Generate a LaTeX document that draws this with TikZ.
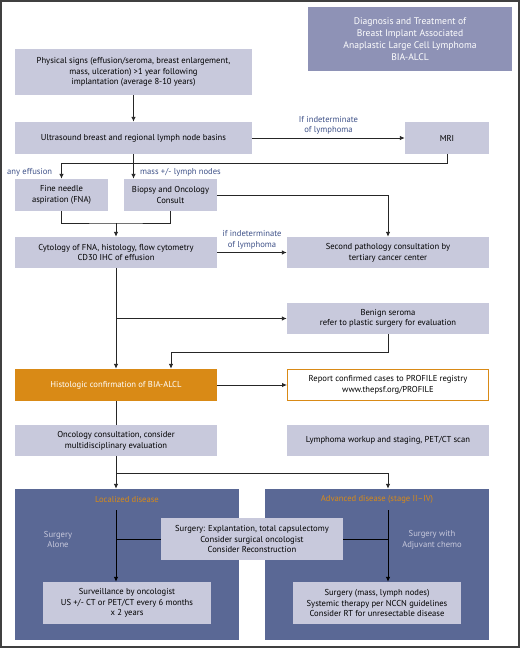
\documentclass[tikz,border=0pt]{standalone}
\usepackage{fontspec}
\setsansfont{PT Sans}
\usepackage{tikz}
\usetikzlibrary{positioning,arrows.meta,calc}
\definecolor{lav1}{HTML}{C8C9DC}
\definecolor{slate1}{HTML}{8E92B6}
\definecolor{navy1}{HTML}{5A6895}
\definecolor{orange1}{HTML}{D98A16}
\definecolor{label1}{HTML}{3E5188}
\definecolor{line1}{HTML}{262626}

\begin{document}
\begin{tikzpicture}[
    x=1pt, y=1pt,
    every node/.style={font=\sffamily\fontsize{8.6}{10.7}\selectfont},
    box/.style={fill=lav1, minimum height=31pt, inner sep=0pt,
                align=center},
    panel/.style={fill=navy1, minimum width=224pt, minimum height=151pt,
                  inner sep=0pt},
    lbl/.style={text=label1, align=center, inner sep=1pt},
    arr/.style={-{Latex[length=5pt,width=4.5pt]}, line1, line width=0.9pt},
    ln/.style={line1, line width=0.9pt},
]
\useasboundingbox (0,0) rectangle (520,-648);
\draw[line width=1.6pt, black!75] (0.8,-0.8) rectangle (519.2,-647.2);

% title
\node[box, fill=slate1, text=white, minimum width=204pt, minimum height=64pt,
      font=\sffamily\fontsize{9.6}{12.2}\selectfont]
    (title) at (410,-39) {Diagnosis and Treatment of\\Breast Implant Associated\\
    Anaplastic Large Cell Lymphoma\\BIA-ALCL};

% diagnosis
\node[box, minimum width=237pt, minimum height=46pt] (phys) at (133.5,-72)
    {Physical signs (effusion/seroma, breast enlargement,\\mass, ulceration) >1 year following\\implantation (average 8-10 years)};
\node[box, minimum width=237pt, minimum height=32pt] (us) at (133.5,-138)
    {Ultrasound breast and regional lymph node basins};
\node[box, minimum width=84pt, minimum height=32pt] (mri) at (447,-138) {MRI};
\node[box, minimum width=93pt, minimum height=32pt] (fna) at (61.5,-195)
    {Fine needle\\aspiration (FNA)};
\node[box, minimum width=93pt, minimum height=32pt] (bio) at (170.5,-195)
    {Biopsy and Oncology\\Consult};
\node[box, minimum width=202pt] (cyt) at (116,-252.5)
    {Cytology of FNA, histology, flow cytometry\\CD30 IHC of effusion};
\node[box, minimum width=202pt] (second) at (388,-252.5)
    {Second pathology consultation by\\tertiary cancer center};
\node[box, minimum width=202pt] (ben) at (388,-318.5)
    {Benign seroma\\refer to plastic surgery for evaluation};
\node[box, fill=orange1, text=white, minimum width=202pt, minimum height=32pt]
    (hist) at (116,-385) {Histologic confirmation of BIA-ALCL};
\node[box, fill=white, draw=orange1, line width=1pt, minimum width=201pt,
      minimum height=31pt] (report) at (388,-385)
    {Report confirmed cases to PROFILE registry\\www.thepsf.org/PROFILE};
\node[box, minimum width=202pt] (onc) at (116,-440.5)
    {Oncology consultation, consider\\multidisciplinary evaluation};
\node[box, minimum width=202pt] (lymph) at (388,-440.5)
    {Lymphoma workup and staging, PET/CT scan};

% treatment panels
\node[panel] (local) at (127,-564.5) {};
\node[panel] (adv) at (377,-564.5) {};
\node[text=orange1] (loctitle) at (127,-499.5) {Localized disease};
\node[text=orange1] (advtitle) at (377,-499.5) {Advanced disease (stage II--IV)};
\node[text=lav1, align=center] (alone) at (58,-539.5) {Surgery\\Alone};
\node[text=lav1, align=center] (chemo) at (432,-539.5) {Surgery with\\Adjuvant chemo};
\node[box, minimum width=168pt, minimum height=42pt] (surv) at (127,-603)
    {Surveillance by oncologist\\US +/- CT or PET/CT every 6 months\\x 2 years};
\node[box, minimum width=168pt, minimum height=42pt] (mass) at (377,-603)
    {Surgery (mass, lymph nodes)\\Systemic therapy per NCCN guidelines\\Consider RT for unresectable disease};

% connectors
\coordinate (j1) at (116,-223);
\coordinate (j2) at (171,-352);
\coordinate (j3) at (116,-473);
\coordinate (l1) at (116,-510);
\coordinate (r1) at (388,-510);

\draw[arr] (phys) -- (us);
\draw[arr] (us) -- (mri)
    node[lbl, midway, above=2pt] {If indeterminate\\of lymphoma};
\draw[arr] (mri.south) -- ++(0,-9) -| (fna.north);
\draw[arr] (us.south) -- (us.south |- bio.north);
\node[lbl, anchor=west] at (6,-172) {any effusion};
\node[lbl, anchor=west] at (139,-172) {mass +/- lymph nodes};
\draw[arr] (bio.east) -| (second.north);
\draw[ln] (fna.south) |- (j1) -| (bio.south);
\draw[arr] (j1) -- (cyt.north);
\draw[arr] (cyt) -- (second)
    node[lbl, midway, above=2pt] {if indeterminate\\of lymphoma};
\draw[arr] (cyt.south) -- (hist.north);
\draw[arr] (cyt.south |- ben.west) -- (ben.west);
\draw[arr] (ben.south) |- (j2) -- (j2 |- hist.north);
\draw[arr] (hist) -- (report);
\draw[ln] (hist.south) -- (onc.north);
\draw[arr] (onc.south) -- (onc.south |- local.north);
\draw[arr] (j3) -| (second.south |- adv.north);

% inside panels
\draw[arr, black] (l1) -- (l1 |- surv.north);
\draw[arr, black] (r1) -- (r1 |- mass.north);
\node[box, minimum width=182pt, minimum height=42pt] (mid) at (252,-539)
    {Surgery: Explantation, total capsulectomy\\Consider surgical oncologist\\Consider Reconstruction};
\draw[ln, black] (mid.west) -- (l1 |- mid.west);
\draw[ln, black] (mid.east) -- (r1 |- mid.east);
\end{tikzpicture}
\end{document}
